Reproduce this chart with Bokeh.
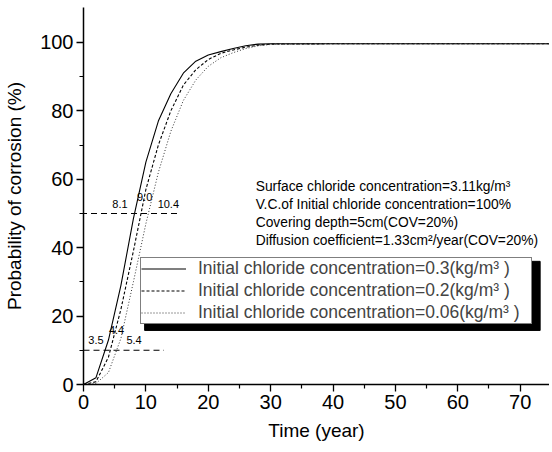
from bokeh.plotting import figure
from bokeh.models import Legend, LegendItem, Range1d, Label, FixedTicker
from bokeh.embed import file_html
from bokeh.resources import INLINE

FONT = "Liberation Sans"

years = [0, 2, 4, 6, 8, 10, 12, 14, 16, 18, 20, 22, 24, 26, 28, 30, 40, 50, 60, 70, 75]
p_03 = [0, 2, 13, 29, 48.5, 65, 77, 85, 91, 94.5, 96.3, 97.3, 98.2, 99.0, 99.5, 99.6, 99.6, 99.6, 99.6, 99.6, 99.6]
p_02 = [0, 0.8, 8, 22, 39, 57, 70, 80, 87.5, 92, 95, 96.8, 97.8, 98.6, 99.2, 99.5, 99.6, 99.6, 99.6, 99.6, 99.6]
p_006 = [0, 0.3, 3.5, 13.5, 30, 47, 62, 74, 83, 89, 93, 95.5, 97, 98.2, 99.0, 99.4, 99.6, 99.6, 99.6, 99.6, 99.6]

series_labels = [
    "Initial chloride concentration=0.3(kg/m\u00b3 )",
    "Initial chloride concentration=0.2(kg/m\u00b3 )",
    "Initial chloride concentration=0.06(kg/m\u00b3 )",
]

ref_levels = [50, 10]
ref_x0 = [-2, 0]
ref_x1 = [15.5, 12.9]

mark_text = ["8.1", "9.0", "10.4", "3.5", "4.4", "5.4"]
mark_x = [5.85, 9.8, 13.6, 2.0, 5.3, 8.1]
mark_y = [52.8, 54.8, 52.8, 12.9, 15.8, 12.9]

note_lines = [
    "Surface chloride concentration=3.11kg/m\u00b3",
    "V.C.of Initial chloride concentration=100%",
    "Covering depth=5cm(COV=20%)",
    "Diffusion coefficient=1.33cm\u00b2/year(COV=20%)",
]
note_x = 27.6
note_y = [57.9, 52.6, 47.4, 42.1]

p = figure(width=549, height=444, output_backend="svg", toolbar_location=None,
           x_range=Range1d(0, 74.7), y_range=Range1d(0, 110.2),
           min_border_left=83, min_border_right=0, min_border_top=7, min_border_bottom=60)
p.outline_line_color = None
p.grid.visible = False
p.background_fill_color = "white"

# legend shadow
p.quad(left=[9.8], right=[73.2], bottom=[15.8], top=[36], color="black")

r1 = p.line(years, p_03, line_color="black", line_width=1.1)
r2 = p.line(years, p_02, line_color="black", line_width=1.1, line_dash="3 2")
r3 = p.line(years, p_006, line_color="#333333", line_width=1.0, line_dash="1 2")

for lv, a, b in zip(ref_levels, ref_x0, ref_x1):
    p.line([a, b], [lv, lv], line_color="black", line_width=1.1, line_dash="6 4")

for t, x, y in zip(mark_text, mark_x, mark_y):
    p.add_layout(Label(x=x, y=y, text=t, text_font=FONT, text_font_size="11px",
                       text_align="center", text_baseline="middle", text_color="black"))

for t, y in zip(note_lines, note_y):
    p.add_layout(Label(x=note_x, y=y, text=t, text_font=FONT, text_font_size="13.8px",
                       text_align="left", text_baseline="middle", text_color="black"))

legend = Legend(items=[LegendItem(label=series_labels[0], renderers=[r1]),
                       LegendItem(label=series_labels[1], renderers=[r2]),
                       LegendItem(label=series_labels[2], renderers=[r3])],
                location=(57, 60))
legend.label_text_font = FONT
legend.label_text_font_size = "17.5px"
legend.label_height = 19
legend.glyph_height = 19
legend.glyph_width = 45
legend.label_standoff = 12
legend.label_width = 333
legend.padding = 0
legend.spacing = 1
legend.margin = 0
legend.border_line_color = "black"
legend.border_line_width = 1
legend.background_fill_color = "white"
legend.background_fill_alpha = 1.0
p.add_layout(legend)

for ax in (p.xaxis[0], p.yaxis[0]):
    ax.axis_line_color = "black"
    ax.axis_line_width = 1.5
    ax.major_tick_line_color = "black"
    ax.minor_tick_line_color = "black"
    ax.major_tick_line_width = 1.3
    ax.minor_tick_line_width = 1.2
    ax.major_tick_out = 7
    ax.major_tick_in = 0
    ax.minor_tick_out = 4
    ax.minor_tick_in = 0
    ax.major_label_text_font = FONT
    ax.major_label_text_font_size = "20px"
    ax.major_label_text_color = "black"
    ax.axis_label_text_font = FONT
    ax.axis_label_text_font_size = "19px"
    ax.axis_label_text_font_style = "normal"
    ax.axis_label_text_color = "black"

p.xaxis[0].ticker = FixedTicker(ticks=[0, 10, 20, 30, 40, 50, 60, 70],
                                minor_ticks=[5, 15, 25, 35, 45, 55, 65])
p.yaxis[0].ticker = FixedTicker(ticks=[0, 20, 40, 60, 80, 100],
                                minor_ticks=[10, 30, 50, 70, 90])
p.xaxis.axis_label = "Time (year)"
p.yaxis.axis_label = "Probability of corrosion (%)"
p.xaxis.major_label_standoff = 3
p.yaxis.major_label_standoff = 3
p.xaxis.axis_label_standoff = 8
p.yaxis.axis_label_standoff = 12

open("out.html", "w").write(file_html(p, INLINE))
